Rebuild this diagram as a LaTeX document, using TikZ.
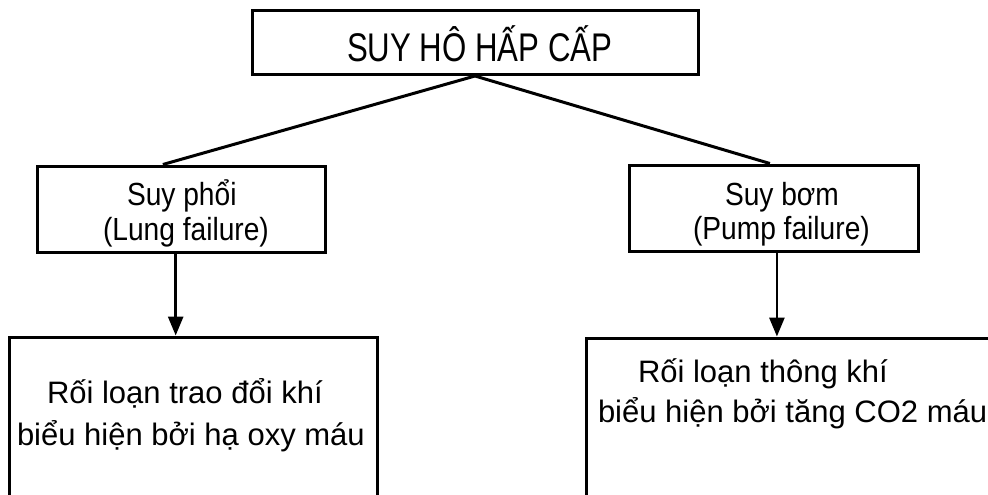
\documentclass[tikz,border=0pt]{standalone}
\usepackage{fontspec}
\setmainfont{Liberation Sans}
\usepackage{graphicx}
\usetikzlibrary{arrows.meta,calc}
\tikzset{
  box/.style={draw, line width=3pt, rectangle, inner sep=0pt},
  txt/.style={anchor=base west, inner sep=0pt, outer sep=0pt},
  link/.style={line width=3pt},
  arr/.style={line width=2.8pt, -{Triangle[width=15pt,length=19pt]}}
}
\newcommand{\titlefont}{\fontsize{40}{48}\selectfont}
\newcommand{\midfont}{\fontsize{32}{38}\selectfont}
\newcommand{\lowfont}{\fontsize{31}{37}\selectfont}
\begin{document}
\begin{tikzpicture}[x=1pt,y=-1pt]
\useasboundingbox (0,0) rectangle (988,495);
\clip (0,0) rectangle (988,495);
% boxes
\node[box, minimum width=446pt, minimum height=64pt] (top) at (475,42.5) {};
\node[box, minimum width=288pt, minimum height=86pt] (lung) at (181.5,209) {};
\node[box, minimum width=289pt, minimum height=86pt] (pump) at (774,208) {};
\node[box, minimum width=368pt, minimum height=223pt] (ox) at (193,448.5) {};
\node[box, minimum width=424pt, minimum height=222pt] (vent) at (798,449) {};
% texts
\node[txt] (t0) at (347,62) {\titlefont\scalebox{0.78}[1]{SUY HÔ HẤP CẤP}};
\node[txt] (t1) at (127,205) {\midfont\scalebox{0.88}[1]{Suy phổi}};
\node[txt] (t2) at (103,240) {\midfont\scalebox{0.88}[1]{(Lung failure)}};
\node[txt] (t3) at (725,205) {\midfont\scalebox{0.88}[1]{Suy bơm}};
\node[txt] (t4) at (693,239) {\midfont\scalebox{0.88}[1]{(Pump failure)}};
\node[txt] (t5) at (47,403) {\lowfont Rối loạn trao đổi khí};
\node[txt] (t6) at (17,445) {\lowfont biểu hiện bởi hạ oxy máu};
\node[txt] (t7) at (638,382) {\lowfont Rối loạn thông khí};
\node[txt] (t8) at (598,422) {\lowfont biểu hiện bởi tăng CO2 máu};
% connectors
\coordinate (lt) at ($(lung.north west)!0.436!(lung.north east)$);
\coordinate (pt) at ($(pump.north west)!0.486!(pump.north east)$);
\draw[link] (lt) -- (top.south) -- (pt);
\coordinate (ls) at ($(lung.south west)!0.48!(lung.south east)$);
\coordinate (ps) at ($(pump.south west)!0.51!(pump.south east)$);
\draw[arr] (ls) -- (ls |- ox.north);
\draw[arr] (ps) -- (ps |- vent.north);
\end{tikzpicture}
\end{document}
